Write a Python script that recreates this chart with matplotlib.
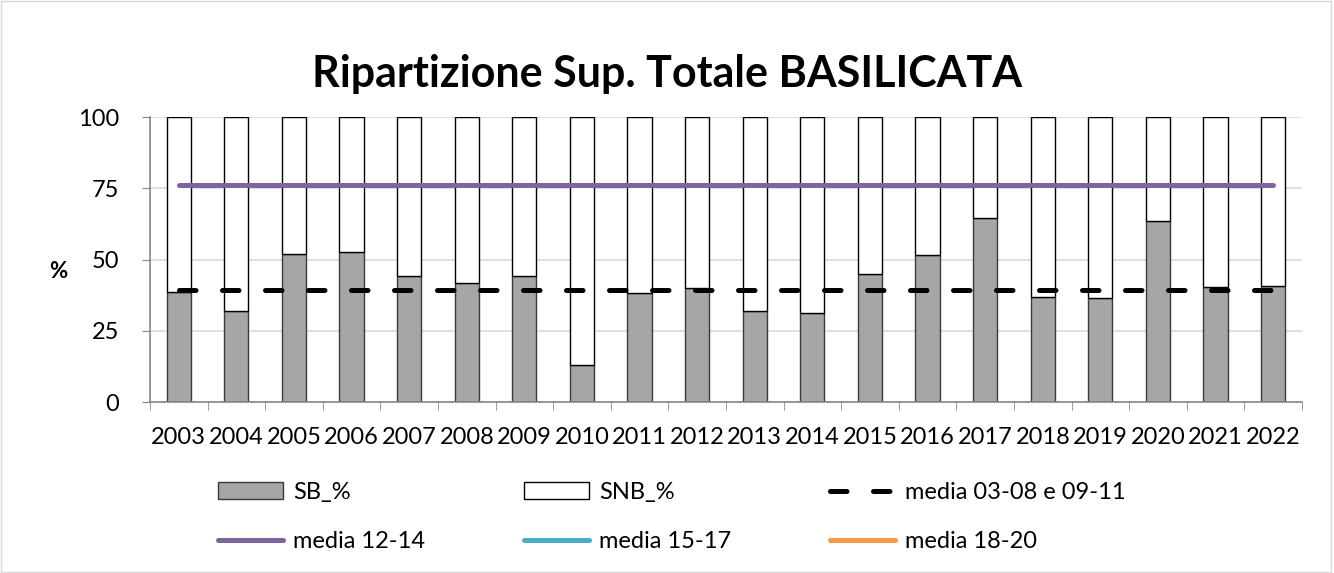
import numpy as np
import matplotlib
matplotlib.use("Agg")
import matplotlib.pyplot as plt
from matplotlib.patches import Rectangle

# dati
anni = ["2003", "2004", "2005", "2006", "2007", "2008", "2009", "2010", "2011", "2012",
        "2013", "2014", "2015", "2016", "2017", "2018", "2019", "2020", "2021", "2022"]
sb = [38.5, 32.0, 52.0, 52.6, 44.1, 41.9, 44.1, 12.9, 38.2, 40.1,
      32.1, 31.1, 44.9, 51.5, 64.5, 37.0, 36.5, 63.5, 40.3, 40.7]
snb = [100 - v for v in sb]
media_03_11 = [39.3] * 20
media_12_14 = [76.3] * 20
media_15_17 = [np.nan] * 20
media_18_20 = [np.nan] * 20

plt.rcParams['font.family'] = ['Lato', 'DejaVu Sans']

fig = plt.figure(figsize=(13.34, 5.73), dpi=100)
ax = fig.add_axes([0.1124, 0.2984, 0.8636, 0.4974])

x = np.arange(len(anni))
w = 0.42
b1 = ax.bar(x, sb, w, color="#A6A6A6", edgecolor="#3a3a3a", linewidth=1, zorder=2, label="SB_%")
b2 = ax.bar(x, snb, w, bottom=sb, color="white", edgecolor="black", linewidth=1, zorder=2, label="SNB_%")
l1, = ax.plot(x, media_03_11, color="black", lw=3.6, ls=(0, (3.3, 5.3)), dash_capstyle="round",
              zorder=3, label="media 03-08 e 09-11")
l2, = ax.plot(x, media_12_14, color="#8064A2", lw=3.6, solid_capstyle="round", zorder=3, label="media 12-14")
l3, = ax.plot(x, media_15_17, color="#4BACC6", lw=3.6, solid_capstyle="round", zorder=3, label="media 15-17")
l4, = ax.plot(x, media_18_20, color="#F79646", lw=3.6, solid_capstyle="round", zorder=3, label="media 18-20")

ax.set_xlim(-0.5, len(anni) - 0.5)
ax.set_ylim(0, 100)
ax.set_yticks([0, 25, 50, 75, 100])
ax.set_xticks(x)
ax.set_xticklabels(anni)
ax.set_xticks(np.arange(-0.5, len(anni)), minor=True)
ax.tick_params(axis="x", which="major", length=0, labelsize=17, pad=18)
ax.tick_params(axis="x", which="minor", length=6, color="#868686", direction="out")
ax.tick_params(axis="y", length=6, color="#868686", labelsize=17, pad=16)
ax.grid(axis="y", color="#d9d9d9", lw=1.2, zorder=0)
ax.set_axisbelow(True)
for s in ["top", "right"]:
    ax.spines[s].set_visible(False)
ax.spines["left"].set_color("#868686")
ax.spines["bottom"].set_color("#868686")
ax.spines["left"].set_linewidth(1.2)
ax.spines["bottom"].set_linewidth(1.2)

fig.text(58 / 1334, 1 - 272 / 573, "%", fontsize=16, fontweight="bold", ha="center", va="center")
fig.text(0.5, 1 - 87 / 573, "Ripartizione Sup. Totale BASILICATA", fontsize=31, fontweight="bold",
         ha="center", va="baseline")

handles = [b1, l2, b2, l3, l1, l4]
fig.legend(handles=handles, labels=[h.get_label() for h in handles], ncol=3, loc="upper left",
           bbox_to_anchor=(218 / 1334, 1 - 482 / 573), frameon=False, fontsize=17, handlelength=2.75,
           columnspacing=4.2, labelspacing=1.2, handletextpad=0.42, borderpad=0, borderaxespad=0)

# bordo del grafico
fig.add_artist(Rectangle((0.001, 0.001), 0.997, 0.997, transform=fig.transFigure, fill=False,
                         edgecolor="#d9d9d9", lw=1))

plt.savefig("out.png", dpi=100)
